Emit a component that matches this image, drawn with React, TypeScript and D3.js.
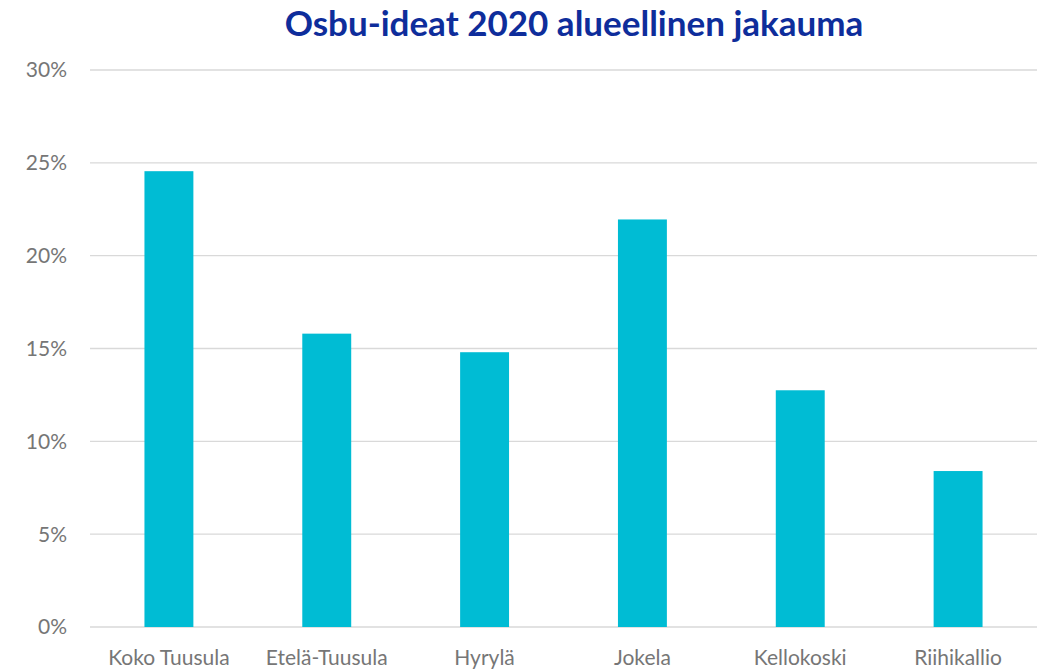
import React from "react";
import * as d3 from "d3";

const categories = ["Koko Tuusula", "Etelä-Tuusula", "Hyrylä", "Jokela", "Kellokoski", "Riihikallio"];
const values = [0.2455, 0.158, 0.148, 0.2195, 0.1275, 0.084];
const yTicks = [0, 0.05, 0.1, 0.15, 0.2, 0.25, 0.3];
const title = "Osbu-ideat 2020 alueellinen jakauma";

const W = 1051;
const H = 671;
const margin = { left: 90, right: 14, top: 70, bottom: 44 };

export default function App() {
  const x = d3
    .scaleBand<string>()
    .domain(categories)
    .range([margin.left, W - margin.right])
    .paddingInner(0.69)
    .paddingOuter(0.345);
  const y = d3.scaleLinear().domain([0, 0.3]).range([H - margin.bottom, margin.top]);
  const fmt = d3.format(".0%");
  const font = "Lato, 'Open Sans', sans-serif";
  return (
    <svg width={W} height={H} style={{ position: "absolute", left: 0, top: 0, background: "#fff" }}>
      <text x={574} y={36} textAnchor="middle" fontFamily={font} fontWeight={700} fontSize={35} fill="#0E2D9B">
        {title}
      </text>
      {yTicks.map((t) => (
        <g key={t}>
          <line x1={margin.left} x2={W - margin.right} y1={y(t)} y2={y(t)} stroke="#D9D9D9" strokeWidth={1.3} />
          <text x={67} y={y(t)} dy="0.35em" textAnchor="end" fontFamily={font} fontSize={21} fill="#767676">
            {fmt(t)}
          </text>
        </g>
      ))}
      {categories.map((c, i) => (
        <g key={c}>
          <rect x={x(c)} y={y(values[i])} width={x.bandwidth()} height={y(0) - y(values[i])} fill="#00BCD4" />
          <text x={(x(c) as number) + x.bandwidth() / 2} y={665} textAnchor="middle" fontFamily={font} fontSize={21} fill="#767676">
            {c}
          </text>
        </g>
      ))}
    </svg>
  );
}
